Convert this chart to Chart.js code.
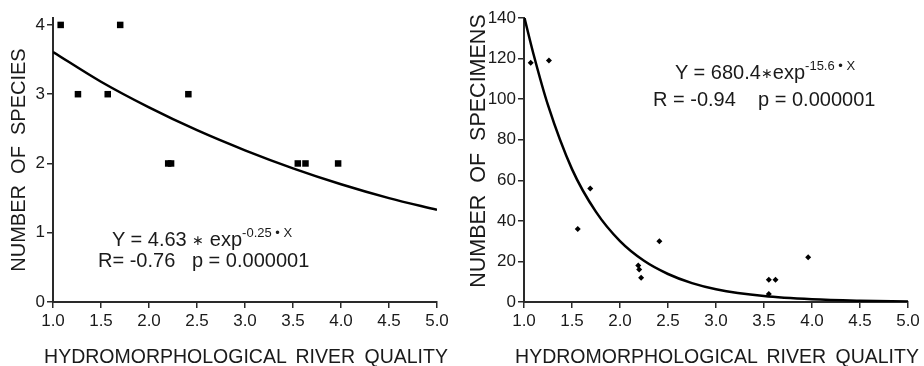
<!DOCTYPE html>
<html>
<head>
<meta charset="utf-8">
<script src="https://cdn.jsdelivr.net/npm/chart.js@4.4.0/dist/chart.umd.min.js"></script>
<style>
  body { margin: 0; background: #fff; }
  #wrap { position: relative; width: 924px; height: 366px; overflow: hidden; }
  canvas { position: absolute; top: 0; }
  #left-chart { left: 0; }
  #right-chart { left: 462px; }
  .eq { position: absolute; font-family: 'Liberation Sans', Arial, sans-serif; font-size: 20px; line-height: 20px; color: #1a1a1a; white-space: pre; }
  .eq sup { font-size: 13px; vertical-align: baseline; position: relative; top: -9px; }
  .eq .star { font-size: 14px; position: relative; top: -1px; }
  .xtitle { position: absolute; top: 346px; width: 420px; text-align: center; font-family: 'Liberation Sans', Arial, sans-serif; font-size: 19.5px; line-height: 20px; word-spacing: 4px; color: #1a1a1a; white-space: nowrap; }
</style>
</head>
<body>
<div id="wrap">
  <canvas id="left-chart" width="462" height="366"></canvas>
  <canvas id="right-chart" width="462" height="366"></canvas>
  <div class="eq" style="left:112px; top:229px;">Y = 4.63 <span class="star">∗</span> exp<sup>-0.25 • X</sup></div>
  <div class="eq" style="left:98px; top:250px;">R= -0.76   p = 0.000001</div>
  <div class="eq" style="left:675px; top:62px;">Y = 680.4<span class="star">∗</span>exp<sup>-15.6 • X</sup></div>
  <div class="eq" style="left:653px; top:89px;">R = -0.94    p = 0.000001</div>
  <div class="xtitle" id="left-xtitle" style="left:36px;"></div>
  <div class="xtitle" id="right-xtitle" style="left:507px;"></div>
</div>
<script>
// species vs quality (left)
const speciesX = [1.08, 1.26, 1.57, 1.70, 2.20, 2.23, 2.41, 3.55, 3.63, 3.97];
const speciesY = [4, 3, 3, 4, 2, 2, 3, 2, 2, 2];
const speciesFitX = [1.0, 1.5, 2.0, 2.5, 3.0, 3.5, 4.0, 4.5, 5.0];
const speciesFitY = [3.61, 3.18, 2.81, 2.48, 2.19, 1.93, 1.70, 1.50, 1.33];
const speciesTicks = [0, 1, 2, 3, 4];

// specimens vs quality (right)
const specimensX = [1.07, 1.26, 1.56, 1.69, 2.19, 2.20, 2.22, 2.41, 3.55, 3.62, 3.55, 3.96];
const specimensY = [118, 119, 36, 56, 18, 16, 12, 30, 11, 11, 4, 22];
const specimensFitX = [1.0, 1.1, 1.25, 1.5, 1.75, 2.0, 2.25, 2.5, 2.75, 3.0, 3.5, 4.0, 4.5, 5.0];
const specimensFitY = [141, 122, 97, 65.5, 44.4, 30, 20.3, 13.8, 9.3, 6.3, 2.9, 1.3, 0.6, 0.3];
const specimensTicks = [0, 20, 40, 60, 80, 100, 120, 140];

const xTicks = [1, 1.5, 2, 2.5, 3, 3.5, 4, 4.5, 5];
const xTitle = 'HYDROMORPHOLOGICAL RIVER QUALITY';
const fontFamily = "'Liberation Sans', Arial, sans-serif";
const ink = '#1a1a1a';
const axisColor = '#2a2a2a';

// x titles are wider than the plot area, so they sit in html instead of the scale title
document.getElementById('left-xtitle').innerText = xTitle;
document.getElementById('right-xtitle').innerText = xTitle;

function toPoints(xs, ys) {
    return xs.map((x, i) => ({ x: x, y: ys[i] }));
}

function buildChart(id, opts) {
    const ctx = document.getElementById(id).getContext('2d');
    return new Chart(ctx, {
        data: {
            datasets: [
                {
                    type: 'line',
                    data: toPoints(opts.fitX, opts.fitY),
                    borderColor: '#000',
                    borderWidth: 2.5,
                    pointRadius: 0,
                    cubicInterpolationMode: 'monotone',
                    fill: false
                },
                {
                    type: 'scatter',
                    data: toPoints(opts.x, opts.y),
                    pointStyle: opts.pointStyle,
                    pointRadius: opts.pointRadius,
                    backgroundColor: '#000',
                    borderColor: '#000',
                    borderWidth: 0
                }
            ]
        },
        options: {
            responsive: false,
            animation: false,
            devicePixelRatio: 1,
            layout: { padding: opts.padding },
            plugins: { legend: { display: false }, tooltip: { enabled: false } },
            scales: {
                x: {
                    type: 'linear',
                    min: 1,
                    max: 5,
                    afterFit: scale => { scale.height = 64; },
                    afterBuildTicks: scale => {
                        scale.ticks = xTicks.map(v => ({ value: v }));
                    },
                    ticks: {
                        color: ink,
                        padding: 3,
                        maxRotation: 0,
                        font: { family: fontFamily, size: 17 },
                        callback: v => v.toFixed(1)
                    },
                    grid: { drawOnChartArea: false, color: axisColor, lineWidth: 1.5, tickLength: 6 },
                    border: { color: axisColor, width: 2 },
                    title: { display: false }
                },
                y: {
                    type: 'linear',
                    min: 0,
                    max: opts.yMax,
                    afterFit: scale => { scale.width = opts.yWidth; },
                    afterBuildTicks: scale => {
                        scale.ticks = opts.yTicks.map(v => ({ value: v }));
                    },
                    ticks: {
                        color: ink,
                        padding: 2,
                        font: { family: fontFamily, size: 17 }
                    },
                    grid: { drawOnChartArea: false, color: axisColor, lineWidth: 1.5, tickLength: 6 },
                    border: { color: axisColor, width: 2 },
                    title: {
                        display: true,
                        text: opts.yTitle,
                        color: ink,
                        padding: { top: opts.yTitlePad, bottom: 0 },
                        font: { family: fontFamily, size: opts.yTitleSize, lineHeight: 1 }
                    }
                }
            }
        }
    });
}

buildChart('left-chart', {
    x: speciesX, y: speciesY, fitX: speciesFitX, fitY: speciesFitY,
    yTicks: speciesTicks, yMax: 4.1, yWidth: 53,
    yTitle: 'NUMBER  OF  SPECIES', yTitleSize: 20, yTitlePad: 9,
    pointStyle: 'rect', pointRadius: 4.6,
    padding: { top: 18, right: 25, bottom: 0, left: 0 }
});

// leading spaces nudge the long title up a little, like the original
buildChart('right-chart', {
    x: specimensX, y: specimensY, fitX: specimensFitX, fitY: specimensFitY,
    yTicks: specimensTicks, yMax: 140, yWidth: 62,
    yTitle: '   NUMBER  OF  SPECIMENS', yTitleSize: 21.5, yTitlePad: 6,
    pointStyle: 'rectRot', pointRadius: 3,
    padding: { top: 18, right: 16, bottom: 0, left: 0 }
});
</script>
</body>
</html>
